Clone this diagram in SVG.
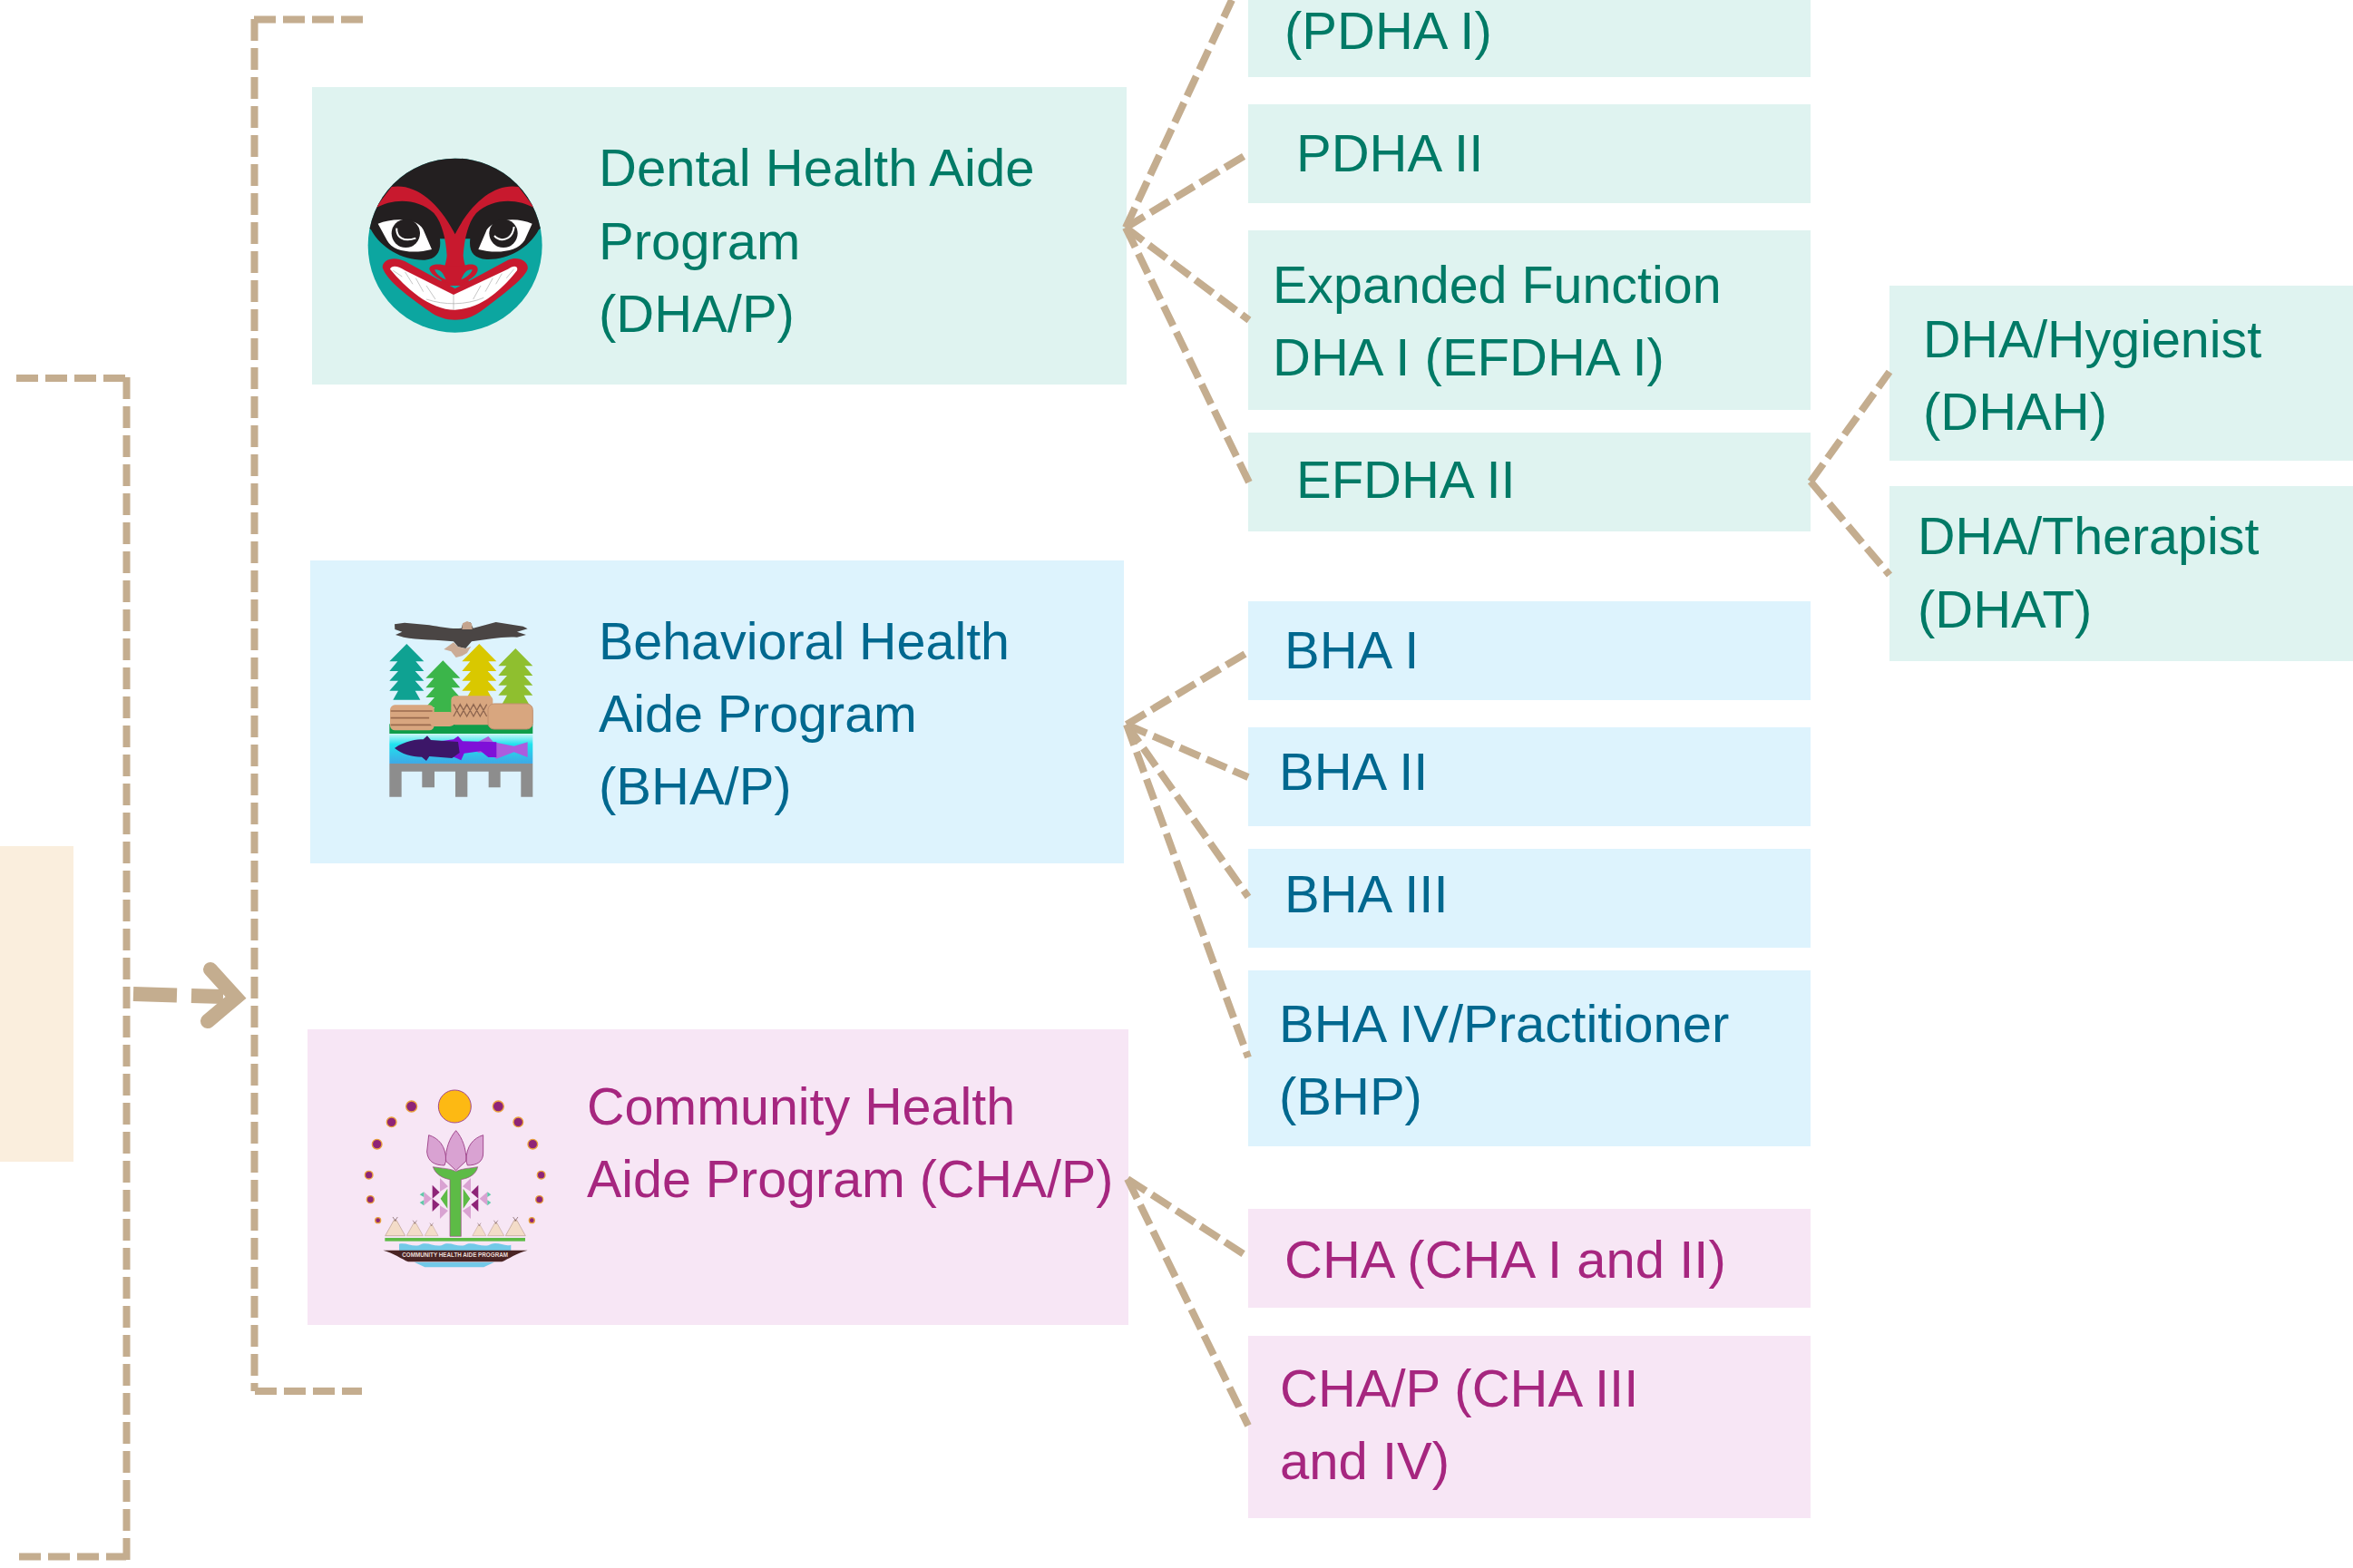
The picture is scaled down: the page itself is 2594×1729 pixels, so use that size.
<svg xmlns="http://www.w3.org/2000/svg" width="2594" height="1729" viewBox="0 0 2594 1729">
<style>
text{font-family:"Liberation Sans",Arial,sans-serif;font-size:58px}
.n{font-size:57.4px}
.t{fill:#007A66}.b{fill:#00688F}.c{fill:#A6267F}
.bt{fill:#DFF3F0}.bb{fill:#DDF3FD}.bc{fill:#F7E6F5}
.d{fill:none;stroke:#C4AD8F;stroke-width:8;stroke-dasharray:24 8}
.e{fill:none;stroke:#C4AD8F;stroke-width:8;stroke-dasharray:24 8}
</style>
<defs>
<clipPath id="maskclip"><circle cx="335" cy="362" r="288"/></clipPath>
<linearGradient id="water" x1="0" y1="0" x2="0" y2="1"><stop offset="0" stop-color="#C8F6F6"/><stop offset=".35" stop-color="#1FE3EE"/><stop offset="1" stop-color="#3FA8E6"/></linearGradient>
<polygon id="tree" points="0,0 57,58 30,58 57,90 28,90 57,122 28,122 57,155 28,155 45,185 -45,185 -28,155 -57,155 -28,122 -57,122 -28,90 -57,90 -30,58 -57,58"/>
<g id="tipi"><polygon points="-33,0 33,0 4,-52 -4,-52" fill="#F3DCC8" stroke="#B79A8C" stroke-width="2"/><path d="M-8,-62 L2,-48 M8,-62 L-2,-48" stroke="#6B4B4B" stroke-width="2" fill="none"/></g>
</defs>
<rect width="2594" height="1729" fill="#fff"/>
<g id="node-root"><rect x="0" y="933" width="81" height="348" fill="#FAEEDD"/></g>

<g id="node-dha">
<rect class="bt" x="344" y="96" width="898" height="328"/>
<g transform="translate(390,150) scale(.3333)">
<circle cx="335" cy="362" r="288" fill="#0CA6A0"/>
<g clip-path="url(#maskclip)">
<path fill="#231F20" d="M30,290 L57,310 C90,370 160,412 235,410 C275,408 290,380 285,340 L385,340 C380,380 395,405 440,408 C510,410 580,370 612,310 L650,280 L650,50 L30,50 Z"/>
<path fill="#C8192E" d="M70,240 L125,168 C200,155 280,215 335,325 C390,215 470,155 545,168 L600,240 C540,205 460,205 405,255 C375,290 365,350 362,395 C365,430 385,470 380,495 L290,495 C285,470 305,430 308,395 C305,350 295,290 265,255 C210,205 130,205 70,240 Z"/>
</g>
<path fill="#C8192E" d="M308,430 C280,420 250,425 250,440 C255,460 290,480 320,488 L350,488 C380,480 412,460 410,440 C410,425 385,420 362,430 Z"/>
<path fill="#0CA6A0" d="M268,442 C285,440 295,450 305,475 C290,470 270,455 268,442 Z M392,442 C375,440 365,450 355,475 C370,470 390,455 392,442 Z"/>
<path fill="#fff" d="M80,290 C130,270 210,270 230,310 L258,375 C200,390 130,385 110,345 Z M590,290 C545,270 470,270 440,310 L412,375 C470,390 540,385 565,345 Z"/>
<circle cx="172" cy="322" r="47" fill="#231F20"/><circle cx="495" cy="322" r="47" fill="#231F20"/>
<path d="M142,305 C140,335 165,352 205,338" stroke="#fff" stroke-width="6" fill="none"/>
<path d="M465,330 C485,352 525,345 530,300" stroke="#fff" stroke-width="6" fill="none"/>
<path fill="#C8192E" d="M95,435 C95,410 130,395 170,415 L335,505 L510,410 C545,395 580,415 575,440 C565,470 500,520 420,580 C370,618 300,618 250,580 C180,530 110,480 95,435 Z"/>
<path fill="#fff" d="M120,440 C125,425 150,430 170,445 L330,525 L510,440 C530,425 545,430 540,445 C500,495 430,572 335,575 C250,575 170,500 120,440 Z"/>
<path stroke="#A9A9A9" stroke-width="2" fill="none" d="M160,465 L130,445 M195,490 L170,450 M230,515 L205,470 M270,540 L240,495 M330,575 V525 M395,540 L420,495 M435,515 L460,470 M470,490 L490,455 M505,470 L530,440 M240,540 C300,560 370,560 430,535"/>
</g>
<text class="t" x="660" y="205">Dental Health Aide</text>
<text class="t" x="660" y="286">Program</text>
<text class="t" x="660" y="366">(DHA/P)</text>
</g>

<g id="node-bha">
<rect class="bb" x="342" y="618" width="897" height="334"/>
<g transform="translate(410,670) scale(.3333)">
<path fill="#8D8D8D" d="M58,516 H532 V626 H493 V542 H425 V595 H386 V542 H316 V626 H276 V542 H207 V595 H166 V542 H98 V626 H58 Z"/>
<use href="#tree" x="115" y="120" fill="#0FA292"/>
<use href="#tree" x="235" y="175" fill="#3BB54A"/>
<use href="#tree" x="355" y="120" fill="#D9C800"/>
<use href="#tree" x="475" y="135" fill="#8FBF2F"/>
<rect x="58" y="385" width="474" height="32" fill="#0F9D4A"/>
<rect x="58" y="418" width="474" height="98" fill="url(#water)"/>
<rect x="60" y="322" width="146" height="84" rx="16" fill="#D8A67F"/>
<path d="M62,342 H200 M62,365 H190 M62,388 H200" stroke="#9A6B4F" stroke-width="5"/>
<rect x="190" y="345" width="85" height="48" rx="18" fill="#D8A67F"/>
<rect x="262" y="292" width="138" height="96" rx="14" fill="#D8A67F"/>
<path d="M270,320 L292,360 L314,320 L336,360 L358,320 L380,360 M270,360 L292,320 L314,360 L336,320 L358,360 L380,320" stroke="#8E6650" stroke-width="4" fill="none"/>
<rect x="384" y="318" width="148" height="84" rx="20" fill="#D8A67F" stroke="#C08F6E" stroke-width="3"/>
<path fill="#AC5CDE" d="M350,445 L385,426 L402,445 L470,458 L515,445 L515,495 L470,478 L412,500 L380,478 L350,480 Z"/>
<path fill="#7F10D8" d="M225,442 L270,436 L285,425 L300,442 L412,445 V495 L385,495 L360,475 L305,482 L295,505 L280,498 L240,482 Z"/>
<path fill="#3C1668" d="M75,465 C110,440 150,436 170,436 L183,424 L195,438 L285,444 L290,480 L265,498 L190,492 L180,507 L165,494 C130,494 100,485 75,465 Z"/>
<path fill="#4A4544" d="M75,55 L108,50 L190,58 C230,65 270,72 296,68 L300,55 L325,48 L335,68 L410,48 L500,62 L515,70 L480,80 L510,90 L480,98 C430,95 380,105 330,112 L310,135 L285,130 L270,112 C220,105 150,108 105,98 L78,90 L100,80 L76,72 Z"/>
<path fill="#C4A48E" d="M300,52 L315,45 L330,52 L332,72 L298,72 Z"/>
<path fill="#CBAC96" d="M270,115 L238,138 L262,145 L278,165 L298,160 L315,150 L328,128 L310,135 L285,130 Z"/>
</g>
<text class="b n" x="660" y="727">Behavioral Health</text>
<text class="b n" x="660" y="807">Aide Program</text>
<text class="b" x="660" y="887">(BHA/P)</text>
</g>

<g id="node-cha">
<rect class="bc" x="339" y="1135" width="905" height="326"/>
<g transform="translate(390,1180) scale(.3333)">
<circle cx="334" cy="120" r="54" fill="#FDB913" stroke="#A24A8F" stroke-width="3"/>
<g fill="#8E2477" stroke="#E9A13B" stroke-width="4">
<circle cx="191" cy="120" r="18"/><circle cx="125" cy="172" r="16"/><circle cx="77" cy="245" r="16"/><circle cx="50" cy="347" r="13"/><circle cx="55" cy="428" r="12"/><circle cx="80" cy="497" r="9"/>
<circle cx="478" cy="120" r="18"/><circle cx="544" cy="172" r="16"/><circle cx="592" cy="245" r="16"/><circle cx="620" cy="347" r="13"/><circle cx="614" cy="428" r="12"/><circle cx="589" cy="497" r="9"/>
</g>
<path fill="#D9A2D2" stroke="#A24A8F" stroke-width="3" d="M248,215 C280,225 305,250 305,300 L300,315 C270,315 245,305 242,270 Z M428,215 C396,225 372,250 372,300 L376,315 C405,315 430,305 428,270 Z M338,200 C360,225 372,260 372,300 L338,332 L304,300 C304,260 316,225 338,200 Z"/>
<path fill="#5DBB46" stroke="#A24A8F" stroke-width="2" d="M262,320 C290,325 320,325 338,335 C356,325 385,325 410,320 C405,345 380,358 355,362 V550 H318 V362 C295,358 270,345 262,320 Z"/>
<path fill="#D9A2D2" d="M285,357 L312,385 L285,402 Z M387,357 L360,385 L387,402 Z M285,448 L312,465 L285,492 Z M387,448 L360,465 L387,492 Z M232,403 L258,425 L232,448 Z M442,403 L416,425 L442,448 Z"/>
<path fill="#8E2477" d="M260,380 L284,404 L260,425 Z M260,425 L284,445 L260,468 Z M412,380 L388,404 L412,425 Z M412,425 L388,445 L412,468 Z"/>
<path fill="#5DBB46" d="M310,392 V458 L287,425 Z M362,392 V458 L385,425 Z"/>
<path fill="#5FC9A8" d="M218,412 L232,403 V420 Z M218,438 L232,430 V448 Z M454,412 L442,403 V420 Z M454,438 L442,430 V448 Z"/>
<use href="#tipi" x="137" y="548"/><use href="#tipi" transform="translate(202,548) scale(.82)"/><use href="#tipi" transform="translate(257,548) scale(.68)"/>
<use href="#tipi" transform="translate(415,548) scale(.68)"/><use href="#tipi" transform="translate(470,548) scale(.82)"/><use href="#tipi" x="535" y="548"/>
<rect x="103" y="555" width="464" height="11" fill="#5DBB46"/>
<path fill="#72C9E8" d="M150,575 C175,568 200,590 225,575 C250,568 275,590 300,575 C325,568 350,590 375,575 C400,568 430,590 455,575 C480,568 500,585 520,578 V600 H150 Z M200,635 H465 L430,652 H235 Z"/>
<path fill="#4A2424" d="M97,596 H575 C540,605 510,625 490,634 H180 C160,625 130,605 97,596 Z"/>
<text x="335" y="618" text-anchor="middle" fill="#E8DCD8" font-weight="700" textLength="350" lengthAdjust="spacingAndGlyphs" style="font-size:19px">COMMUNITY HEALTH AIDE PROGRAM</text>
</g>
<text class="c n" x="647" y="1240">Community Health</text>
<text class="c n" x="647" y="1320">Aide Program (CHA/P)</text>
</g>

<g id="node-pdha1"><rect class="bt" x="1376" y="0" width="620" height="85"/><text class="t" x="1416" y="54">(PDHA I)</text></g>
<g id="node-pdha2"><rect class="bt" x="1376" y="115" width="620" height="109"/><text class="t" x="1429" y="189">PDHA II</text></g>
<g id="node-efdha1"><rect class="bt" x="1376" y="254" width="620" height="198"/><text class="t n" x="1403" y="334">Expanded Function</text><text class="t" x="1403" y="414">DHA I (EFDHA I)</text></g>
<g id="node-efdha2"><rect class="bt" x="1376" y="477" width="620" height="109"/><text class="t" x="1429" y="549">EFDHA II</text></g>
<g id="node-dhah"><rect class="bt" x="2083" y="315" width="511" height="193"/><text class="t n" x="2120" y="394">DHA/Hygienist</text><text class="t" x="2120" y="474">(DHAH)</text></g>
<g id="node-dhat"><rect class="bt" x="2083" y="536" width="511" height="193"/><text class="t n" x="2114" y="611">DHA/Therapist</text><text class="t" x="2114" y="692">(DHAT)</text></g>
<g id="node-bha1"><rect class="bb" x="1376" y="663" width="620" height="109"/><text class="b" x="1416" y="737">BHA I</text></g>
<g id="node-bha2"><rect class="bb" x="1376" y="802" width="620" height="109"/><text class="b" x="1410" y="871">BHA II</text></g>
<g id="node-bha3"><rect class="bb" x="1376" y="936" width="620" height="109"/><text class="b" x="1416" y="1006">BHA III</text></g>
<g id="node-bha4"><rect class="bb" x="1376" y="1070" width="620" height="194"/><text class="b" x="1410" y="1149">BHA IV/Practitioner</text><text class="b" x="1410" y="1229">(BHP)</text></g>
<g id="node-cha1"><rect class="bc" x="1376" y="1333" width="620" height="109"/><text class="c" x="1416" y="1409">CHA (CHA I and II)</text></g>
<g id="node-cha2"><rect class="bc" x="1376" y="1473" width="620" height="201"/><text class="c" x="1411" y="1551">CHA/P (CHA III</text><text class="c" x="1411" y="1631">and IV)</text></g>

<g id="connectors">
<path class="d" d="M18,417 H140"/>
<path class="d" d="M139.5,416 V1720"/>
<path class="d" d="M21,1716.5 H139"/>
<path class="d" d="M280.5,21 V1534"/>
<path class="d" d="M280,21.5 H402"/>
<path class="d" d="M281,1534 H399"/>
<path d="M147,1096 L246,1099" fill="none" stroke="#C4AD8F" stroke-width="16" stroke-dasharray="48 16"/>
<path d="M232,1069 L260,1100 L229,1126" fill="none" stroke="#C4AD8F" stroke-width="16" stroke-linecap="round" stroke-linejoin="miter"/>
<path class="e" d="M1241,251 L1358,0"/>
<path class="e" d="M1241,251 L1375,170"/>
<path class="e" d="M1241,251 L1377,353"/>
<path class="e" d="M1241,251 L1377,532"/>
<path class="e" d="M1996,531 L2083,410"/>
<path class="e" d="M1996,531 L2083,634"/>
<path class="e" d="M1242,799 L1376,719"/>
<path class="e" d="M1242,799 L1376,857"/>
<path class="e" d="M1242,799 L1376,989"/>
<path class="e" d="M1242,799 L1376,1166"/>
<path class="e" d="M1243,1300 L1376,1386"/>
<path class="e" d="M1243,1300 L1376,1572"/>
</g>
</svg>
